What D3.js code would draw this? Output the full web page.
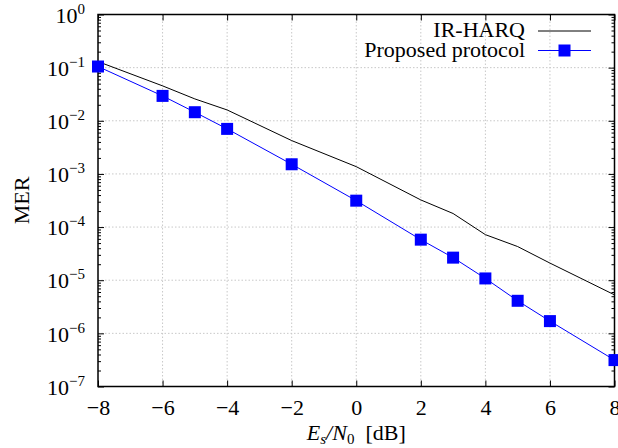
<!DOCTYPE html>
<html>
<head>
<meta charset="utf-8">
<script src="https://cdn.jsdelivr.net/npm/d3@7"></script>
<style>
  body { margin: 0; background: #fff; }
  svg { display: block; font-family: "Liberation Serif", "Times New Roman", serif; }
  .grid line { stroke: #c8c8c8; stroke-dasharray: 1.5,2; }
</style>
</head>
<body>
<div class="chart"></div>
<script>
// data
const snr = [-8, -6, -5, -4, -2, 0, 2, 3, 4, 5, 6, 8];
const mer_harq = [0.13, 0.0454, 0.0258, 0.016, 0.00424, 0.00137, 3.24e-4, 1.8e-4, 7.2e-5, 4.3e-5, 2.1e-5, 5.3e-6];
const mer_proposed = [0.105, 0.0294, 0.0145, 0.00704, 0.00152, 3.14e-4, 5.8e-5, 2.66e-5, 1.08e-5, 4.1e-6, 1.7e-6, 3.14e-7];
const x_ticks = [-8, -6, -4, -2, 0, 2, 4, 6, 8];
const y_exps = [0, -1, -2, -3, -4, -5, -6, -7];
const legend_names = ['IR-HARQ', 'Proposed protocol'];

const svg_width = 618;
const svg_height = 448;
const margin = {top: 14.5, right: 3.5, bottom: 61.5, left: 98};
const width = svg_width - margin.left - margin.right;
const height = svg_height - margin.top - margin.bottom;
const fs = 22;    // main font size
const fs_small = 15;

const svg = d3.select('.chart').append('svg')
    .attr('width', svg_width)
    .attr('height', svg_height);
const g = svg.append('g')
    .attr('transform', `translate(${margin.left},${margin.top})`);

const x = d3.scaleLinear().domain([-8, 8]).range([0, width]);
const y = d3.scaleLog().domain([1e-7, 1]).range([height, 0]);

const y_major = y_exps.map(e => Math.pow(10, e));
const y_minor = [];
y_exps.slice(1).forEach(e => {
    for (let k = 2; k <= 9; k++) y_minor.push(k * Math.pow(10, e));
});

// grid
g.append('g').attr('class', 'grid')
    .selectAll('line').data(x_ticks.slice(1, -1)).join('line')
    .attr('x1', d => x(d)).attr('x2', d => x(d))
    .attr('y1', 0).attr('y2', height);
g.append('g').attr('class', 'grid')
    .selectAll('line').data(y_major.slice(1, -1)).join('line')
    .attr('x1', 0).attr('x2', width)
    .attr('y1', d => y(d)).attr('y2', d => y(d));

// axes: ticks point inward like gnuplot
const axis_style = sel => {
    sel.select('.domain').remove();
    sel.selectAll('line').attr('stroke', '#000');
};
g.append('g').attr('transform', `translate(0,${height})`)
    .call(d3.axisBottom(x).tickValues(x_ticks).tickSize(-6).tickPadding(13)
        .tickFormat(d3.format('d')))
    .call(axis_style)
    .call(s => s.selectAll('text').attr('font-size', fs).attr('font-family', 'Liberation Serif').attr('fill', '#000'));
g.append('g')
    .call(d3.axisTop(x).tickValues(x_ticks).tickSize(-6).tickFormat(''))
    .call(axis_style);

const y_left = g.append('g')
    .call(d3.axisLeft(y).tickValues(y_major).tickSize(-6).tickFormat(''))
    .call(axis_style);
g.append('g')
    .call(d3.axisLeft(y).tickValues(y_minor).tickSize(-3).tickFormat(''))
    .call(axis_style);
g.append('g').attr('transform', `translate(${width},0)`)
    .call(d3.axisRight(y).tickValues(y_major).tickSize(-6).tickFormat(''))
    .call(axis_style);
g.append('g').attr('transform', `translate(${width},0)`)
    .call(d3.axisRight(y).tickValues(y_minor).tickSize(-3).tickFormat(''))
    .call(axis_style);

// y tick labels 10^n
y_left.selectAll('.tick').each(function(d) {
    const t = d3.select(this).append('text')
        .attr('x', -13).attr('dy', '0.35em')
        .attr('text-anchor', 'end')
        .attr('font-size', fs)
        .attr('font-family', 'Liberation Serif')
        .attr('fill', '#000');
    t.append('tspan').text('10');
    t.append('tspan').attr('dy', -9).attr('font-size', fs_small)
        .text(d3.format('d')(Math.round(Math.log10(d))));
});

// frame
g.append('rect').attr('width', width).attr('height', height)
    .attr('fill', 'none').attr('stroke', '#000').attr('stroke-width', 1.5);

// series
const line = d3.line().x(d => x(d[0])).y(d => y(d[1]));
const harq = snr.map((s, i) => [s, mer_harq[i]]);
const proposed = snr.map((s, i) => [s, mer_proposed[i]]);

g.append('path').datum(harq).attr('d', line)
    .attr('fill', 'none').attr('stroke', '#000').attr('stroke-width', 1);
g.append('path').datum(proposed).attr('d', line)
    .attr('fill', 'none').attr('stroke', '#0000ff').attr('stroke-width', 1);
const ms = 12;
g.selectAll('.mark').data(proposed).join('rect')
    .attr('class', 'mark')
    .attr('x', d => x(d[0]) - ms / 2).attr('y', d => y(d[1]) - ms / 2)
    .attr('width', ms).attr('height', ms)
    .attr('fill', '#0000ff');

// legend
const legend = svg.append('g');
const leg_rows = [
    {name: legend_names[0], color: '#000', marker: false, y: 31},
    {name: legend_names[1], color: '#0000ff', marker: true, y: 50.5}
];
leg_rows.forEach(r => {
    legend.append('text').attr('x', 525).attr('y', r.y + 6)
        .attr('text-anchor', 'end').attr('font-size', fs).text(r.name);
    legend.append('line').attr('x1', 538).attr('x2', 591)
        .attr('y1', r.y).attr('y2', r.y)
        .attr('stroke', r.color).attr('stroke-width', 1);
    if (r.marker) {
        legend.append('rect').attr('x', 564.5 - ms / 2).attr('y', r.y - ms / 2)
            .attr('width', ms).attr('height', ms).attr('fill', r.color);
    }
});

// axis titles
svg.append('text')
    .attr('transform', `translate(29,${margin.top + height / 2}) rotate(-90)`)
    .attr('text-anchor', 'middle').attr('font-size', fs).text('MER');

const xt = svg.append('text')
    .attr('x', margin.left + width / 2).attr('y', 440)
    .attr('text-anchor', 'middle').attr('font-size', fs);
xt.append('tspan').attr('font-style', 'italic').text('E');
xt.append('tspan').attr('font-style', 'italic').attr('font-size', fs_small).attr('dy', 4).text('s');
xt.append('tspan').attr('font-style', 'italic').attr('dy', -4).text('/N');
xt.append('tspan').attr('font-size', fs_small).attr('dy', 4).text('0');
xt.append('tspan').attr('dy', -4).text('\u00a0 [dB]');
</script>
</body>
</html>
